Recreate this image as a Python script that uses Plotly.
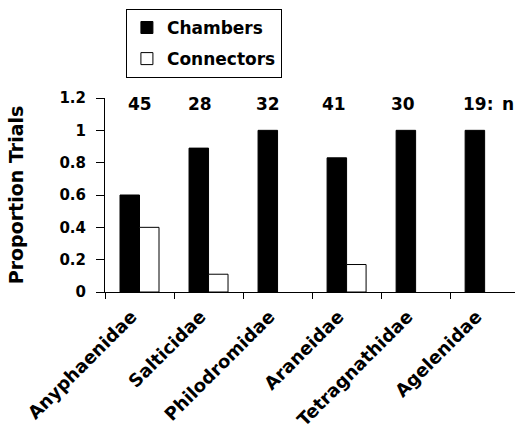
import plotly.graph_objects as go

families = ["Anyphaenidae", "Salticidae", "Philodromidae", "Araneidae", "Tetragnathidae", "Agelenidae"]
chambers = [0.60, 0.89, 1.0, 0.83, 1.0, 1.0]
connectors = [0.40, 0.11, 0.0, 0.17, 0.0, 0.0]
n_trials = ["45", "28", "32", "41", "30", "19:"]
n_shift = [0, -9, -10, -13, -13, -7]

FONT = "DejaVu Sans"


def outline(values):
    return [1 if v > 0 else 0 for v in values]


fig = go.Figure()
fig.add_trace(go.Bar(x=families, y=chambers, name="Chambers", legendgroup="a",
                     marker=dict(color="black", line=dict(color="black", width=outline(chambers)))))
fig.add_trace(go.Bar(x=families, y=connectors, name="Connectors", legendgroup="b",
                     marker=dict(color="white", line=dict(color="black", width=outline(connectors)))))

for i, (fam, t) in enumerate(zip(families, n_trials)):
    fig.add_annotation(x=fam, y=1.165, xref="x", yref="y", text=f"<b>{t}</b>",
                       showarrow=False, xshift=n_shift[i], yanchor="middle",
                       font=dict(family=FONT, size=17, color="black"))
fig.add_annotation(x=families[-1], y=1.165, xref="x", yref="y", text="<b>n</b>",
                   showarrow=False, xshift=23, yanchor="middle",
                   font=dict(family=FONT, size=17, color="black"))

fig.update_layout(
    width=515, height=437,
    margin=dict(l=105, r=0, t=98, b=145),
    paper_bgcolor="white", plot_bgcolor="white",
    barmode="group", bargap=0.435, bargroupgap=0,
    font=dict(family=FONT, size=15, color="black"),
    showlegend=True,
    legend=dict(x=0.051, y=1.459, xanchor="left", yanchor="top",
                bordercolor="black", borderwidth=1, bgcolor="white",
                font=dict(family=FONT, size=17, color="black", weight="bold"),
                tracegroupgap=6, itemwidth=30),
    xaxis=dict(range=[-0.5, 5.44], showline=True, linecolor="black", linewidth=1,
               ticks="outside", tickson="boundaries", ticklen=6, tickcolor="black",
               tickangle=-45, showgrid=False, automargin=False,
               ticklabelstandoff=6, ticklabelshift=-8,
               tickfont=dict(family=FONT, size=18, color="black", weight="bold")),
    yaxis=dict(range=[0, 1.2], dtick=0.2, showline=True, linecolor="black", linewidth=1,
               ticks="outside", ticklen=8, tickcolor="black", showgrid=False,
               zeroline=False, automargin=False, ticklabelstandoff=7,
               tickfont=dict(family=FONT, size=15, color="black", weight="bold"),
               title=dict(text="<b>Proportion Trials</b>", standoff=30,
                          font=dict(family=FONT, size=19, color="black"))),
)

fig.write_html("out.html", config={"displayModeBar": False},
               post_script="document.body.style.margin='0';document.body.style.overflow='hidden';")
